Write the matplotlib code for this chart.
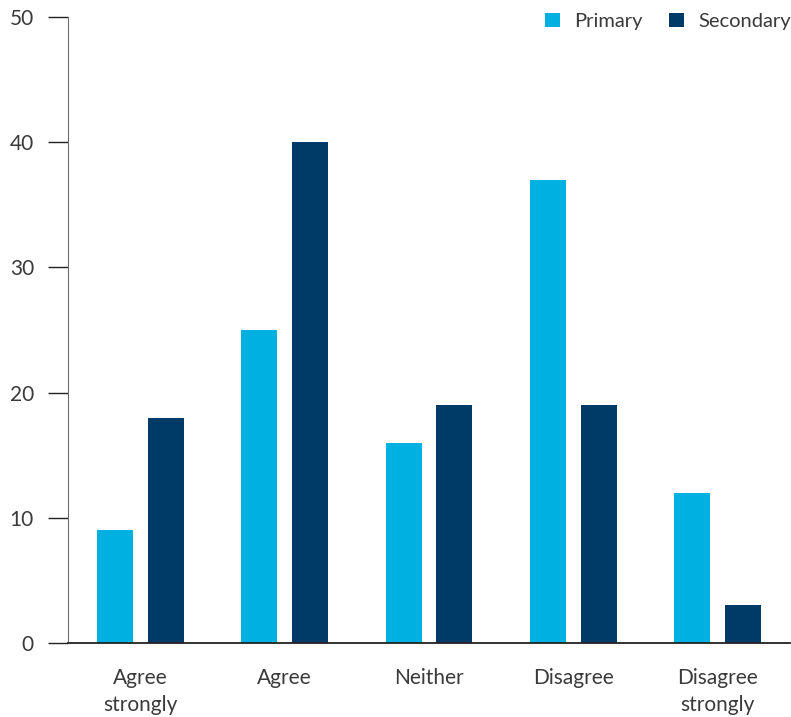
import matplotlib.pyplot as plt
import numpy as np

categories = ['Agree\nstrongly', 'Agree', 'Neither', 'Disagree', 'Disagree\nstrongly']
primary = [9, 25, 16, 37, 12]
secondary = [18, 40, 19, 19, 3]

plt.rcParams['font.family'] = ['Lato', 'DejaVu Sans']

fig = plt.figure(figsize=(7.91, 7.17), dpi=100)
ax = fig.add_axes([68 / 791, 74 / 717, 722 / 791, 626 / 717])

x = np.arange(len(categories))
w = 0.25
ax.bar(x - 0.176, primary, w, color='#00B0E0', label='Primary')
ax.bar(x + 0.176, secondary, w, color='#003A66', label='Secondary')

ax.set_xlim(-0.5, 4.5)
ax.set_ylim(0, 50)
ax.set_yticks(range(0, 51, 10))
ax.set_xticks(x)
ax.set_xticklabels(categories, linespacing=1.45)

for s in ['top', 'right']:
    ax.spines[s].set_visible(False)
ax.spines['left'].set_color('#6e6e6e')
ax.spines['bottom'].set_color('#222222')
ax.spines['bottom'].set_linewidth(1.3)

ax.tick_params(axis='y', length=14.5, width=1.0, color='#222222', pad=10,
               labelsize=15, labelcolor='#3a3a3a')
ax.tick_params(axis='x', length=0, pad=18, labelsize=15, labelcolor='#3a3a3a')

leg = ax.legend(loc='upper right', bbox_to_anchor=(1.012, 1.02), ncol=2, frameon=False,
                fontsize=14.5, handlelength=0.75, handleheight=0.75,
                handletextpad=0.7, columnspacing=1.3, borderaxespad=0)
for t in leg.get_texts():
    t.set_color('#3a3a3a')

fig.savefig('out.png', dpi=100)
